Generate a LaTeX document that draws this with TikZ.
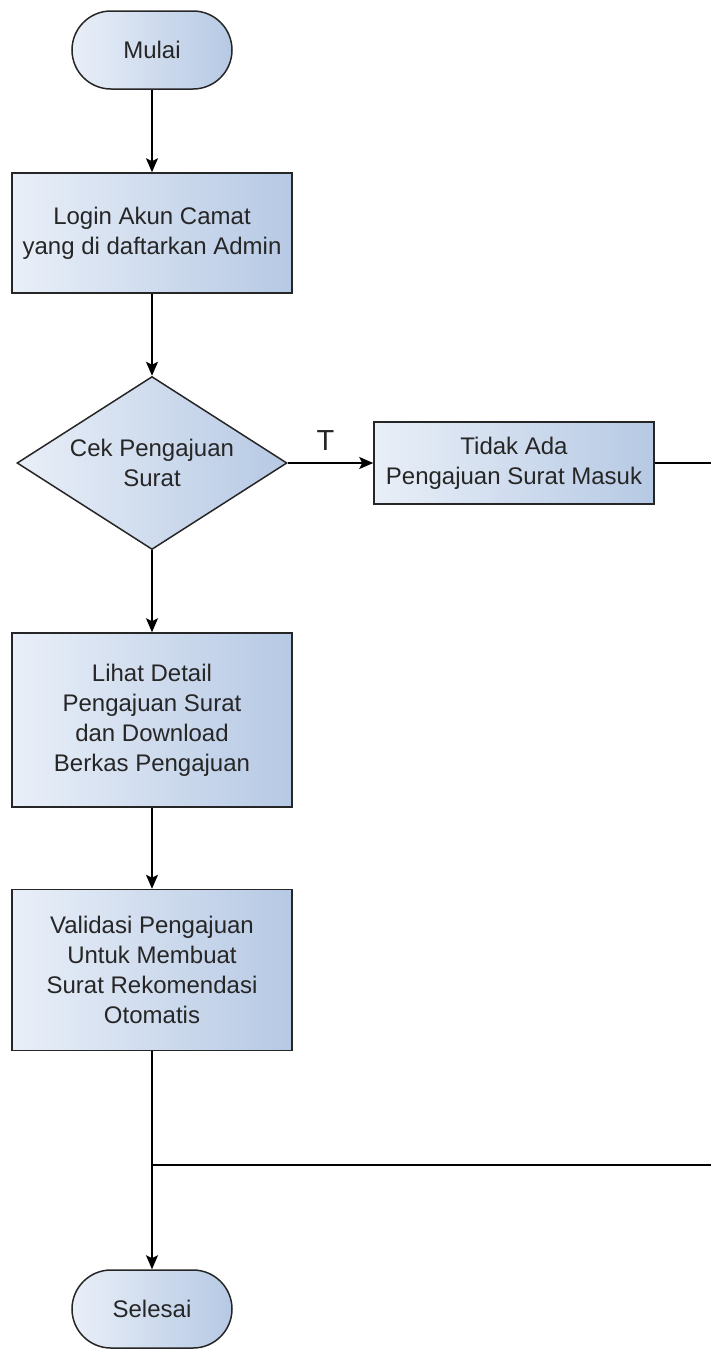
\documentclass[tikz,border=0pt]{standalone}
\usepackage{fontspec}
\setmainfont{Liberation Sans}
\usetikzlibrary{shapes.geometric,arrows.meta}
\definecolor{isikiri}{RGB}{233,239,248}
\definecolor{isikanan}{RGB}{182,201,228}
\definecolor{garistepi}{RGB}{38,38,38}
\begin{document}
\begin{tikzpicture}[x=1pt,y=-1pt,font=\fontsize{24}{30}\selectfont,
    kotak/.style={draw=garistepi,line width=1.5pt,left color=isikiri,right color=isikanan,
        text=black!85,align=center,inner sep=0pt},
    terminal/.style={kotak,rectangle,rounded corners=39pt,minimum width=160pt,minimum height=78pt},
    proses/.style={kotak,rectangle,minimum width=280pt},
    keputusan/.style={kotak,diamond,aspect=1.5,minimum width=270pt,minimum height=173pt},
    panah/.style={-{Stealth[length=14pt,width=12pt,inset=3pt]},line width=1.5pt},
    garis/.style={line width=1.5pt}]
    \useasboundingbox (0,0) rectangle (711,1349);
    \node[terminal] (mulai) at (152,50) {Mulai};
    \node[proses,minimum height=120pt] (login) at (152,233) {Login Akun Camat\\yang di daftarkan Admin};
    \node[keputusan] (cek) at (152,463) {Cek Pengajuan\\Surat};
    \node[proses,minimum height=82pt] (tidak) at (514,463) {Tidak Ada\\Pengajuan Surat Masuk};
    \node[proses,minimum height=174pt] (lihat) at (152,720) {Lihat Detail\\Pengajuan Surat\\dan Download\\Berkas Pengajuan};
    \node[proses,minimum height=161pt] (validasi) at (152,970) {Validasi Pengajuan\\Untuk Membuat\\Surat Rekomendasi\\Otomatis};
    \node[terminal] (selesai) at (152,1309) {Selesai};
    \coordinate (kananatas) at (711,463);
    \coordinate (kananbawah) at (711,1165);
    \coordinate (temu) at (152,1165);
    \draw[panah] (mulai) -- (login);
    \draw[panah] (login) -- (cek);
    \draw[panah] (cek) -- node[above=8pt,xshift=-5pt,text=black!85,font=\fontsize{29}{30}\selectfont] (t) {T} (tidak);
    \draw[panah] (cek) -- (lihat);
    \draw[panah] (lihat) -- (validasi);
    \draw[panah] (validasi) -- (selesai);
    \draw[garis] (tidak) -- (kananatas);
    \draw[garis] (kananbawah) -- (temu);
\end{tikzpicture}
\end{document}
